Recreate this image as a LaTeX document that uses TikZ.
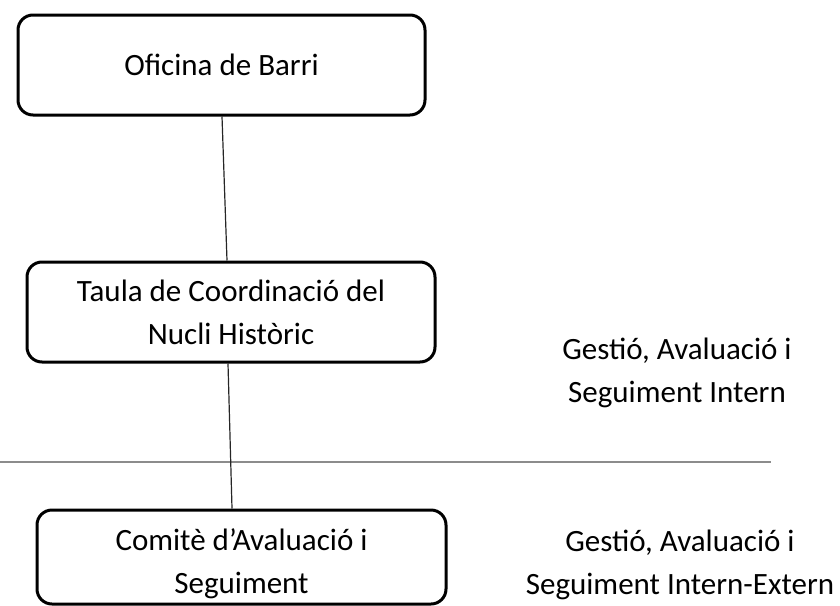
\documentclass[tikz,border=0pt]{standalone}
\usepackage{fontspec}
\setmainfont{Carlito}
\newcommand{\twolines}[3]{\raisebox{#1}[0pt][0pt]{\begin{tabular}{@{}c@{}}#2\\[4pt]#3\end{tabular}}}
\begin{document}
\begin{tikzpicture}[x=1pt,y=-1pt,
  orgbox/.style={draw=black,line width=3pt,rounded corners=15pt,align=center,inner sep=0pt,
    font=\fontsize{31}{39}\selectfont},
  lbl/.style={align=center,inner sep=0pt,font=\fontsize{31}{43}\selectfont},
  conn/.style={draw=black!85,line width=1.2pt},
  sep/.style={draw=black!45,line width=1.6pt}]
\useasboundingbox (0,0) rectangle (840,605);
\node[orgbox,minimum width=407pt,minimum height=100pt] (top) at (221.5,65) {Oficina de Barri};
\node[orgbox,minimum width=408pt,minimum height=100pt] (mid) at (231,312) {\twolines{-9.75pt}{Taula de Coordinació del}{Nucli Històric}};
\node[orgbox,minimum width=409pt,minimum height=94pt] (bot) at (241.5,557) {\twolines{-13.75pt}{Comitè d’Avaluació i}{Seguiment}};
\node[lbl] (gi) at (677,373) {Gestió, Avaluació i\\Seguiment Intern};
\node[lbl] (ge) at (680,565) {Gestió, Avaluació i\\Seguiment Intern-Extern};
\coordinate (sepL) at (0,462);
\coordinate (sepR) at (771,462);
\draw[sep] (sepL) -- (sepR);
\draw[conn] ([xshift=0.5pt]top.south) -- ([xshift=-4pt]mid.north);
\draw[conn] ([xshift=-3pt]mid.south) -- ([xshift=-9.5pt]bot.north);
\end{tikzpicture}
\end{document}
